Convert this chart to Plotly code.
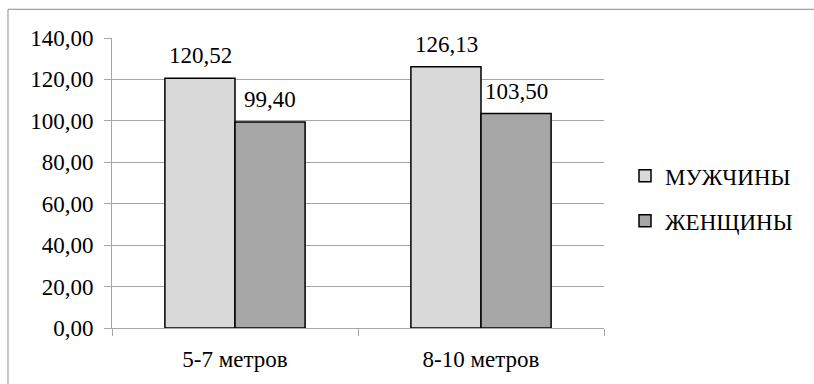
import plotly.graph_objects as go

# Distance categories and mean values per group
categories = ["5-7 метров", "8-10 метров"]
men = [120.52, 126.13]
women = [99.40, 103.50]
series_names = ["МУЖЧИНЫ", "ЖЕНЩИНЫ"]
y_ticks = [0, 20, 40, 60, 80, 100, 120, 140]
y_tick_labels = ["0,00", "20,00", "40,00", "60,00", "80,00", "100,00", "120,00", "140,00"]

FONT = "Times New Roman"
FSIZE = 23
GRID = "#a6a6a6"
fill_colors = ["#d9d9d9", "#a6a6a6"]

def fmt(v):
    return f"{v:.2f}".replace(".", ",")

fig = go.Figure()
for name, vals, col, grp in zip(series_names, [men, women], fill_colors, ["a", "b"]):
    fig.add_trace(go.Bar(
        x=categories, y=vals, name=name, legendgroup=grp,
        marker=dict(color=col, line=dict(color="#000000", width=1.5)),
    ))

# Value labels above each bar (group offset of ±35 px around the category centre)
for vals, shift in [(men, -35), (women, 35)]:
    for c, v in zip(categories, vals):
        fig.add_annotation(
            x=c, y=v, text=fmt(v), showarrow=False,
            xshift=shift, yshift=8, yanchor="bottom",
            font=dict(family=FONT, size=FSIZE, color="#000000"),
        )

# Outer chart frame
fig.add_shape(
    type="rect", xref="paper", yref="paper",
    x0=-0.2114, x1=1.44, y0=-0.2, y1=1.099,
    line=dict(color="#8c8c8c", width=1),
)

fig.update_layout(
    width=814, height=384,
    margin=dict(l=112, r=210, t=38, b=53),
    plot_bgcolor="white",
    barmode="group", bargap=0.43, bargroupgap=0,
    font=dict(family=FONT, size=FSIZE, color="#000000"),
    showlegend=True,
    legend=dict(
        x=1.0427, y=0.447, xanchor="left", yanchor="middle",
        traceorder="grouped", tracegroupgap=12,
        font=dict(family=FONT, size=FSIZE, color="#000000"),
    ),
    xaxis=dict(
        type="category", showline=True, linecolor=GRID, linewidth=1,
        ticks="outside", ticklen=7, tickcolor=GRID, tickson="boundaries",
        showgrid=False, ticklabelstandoff=10,
        tickfont=dict(family=FONT, size=FSIZE, color="#000000"),
    ),
    yaxis=dict(
        range=[0, 140], tickvals=y_ticks, ticktext=y_tick_labels,
        showline=True, linecolor=GRID, linewidth=1,
        ticks="outside", ticklen=7, tickcolor=GRID,
        showgrid=True, gridcolor=GRID, gridwidth=1, zeroline=False,
        ticklabelstandoff=6,
        tickfont=dict(family=FONT, size=FSIZE, color="#000000"),
    ),
)

fig.write_html("out.html")
